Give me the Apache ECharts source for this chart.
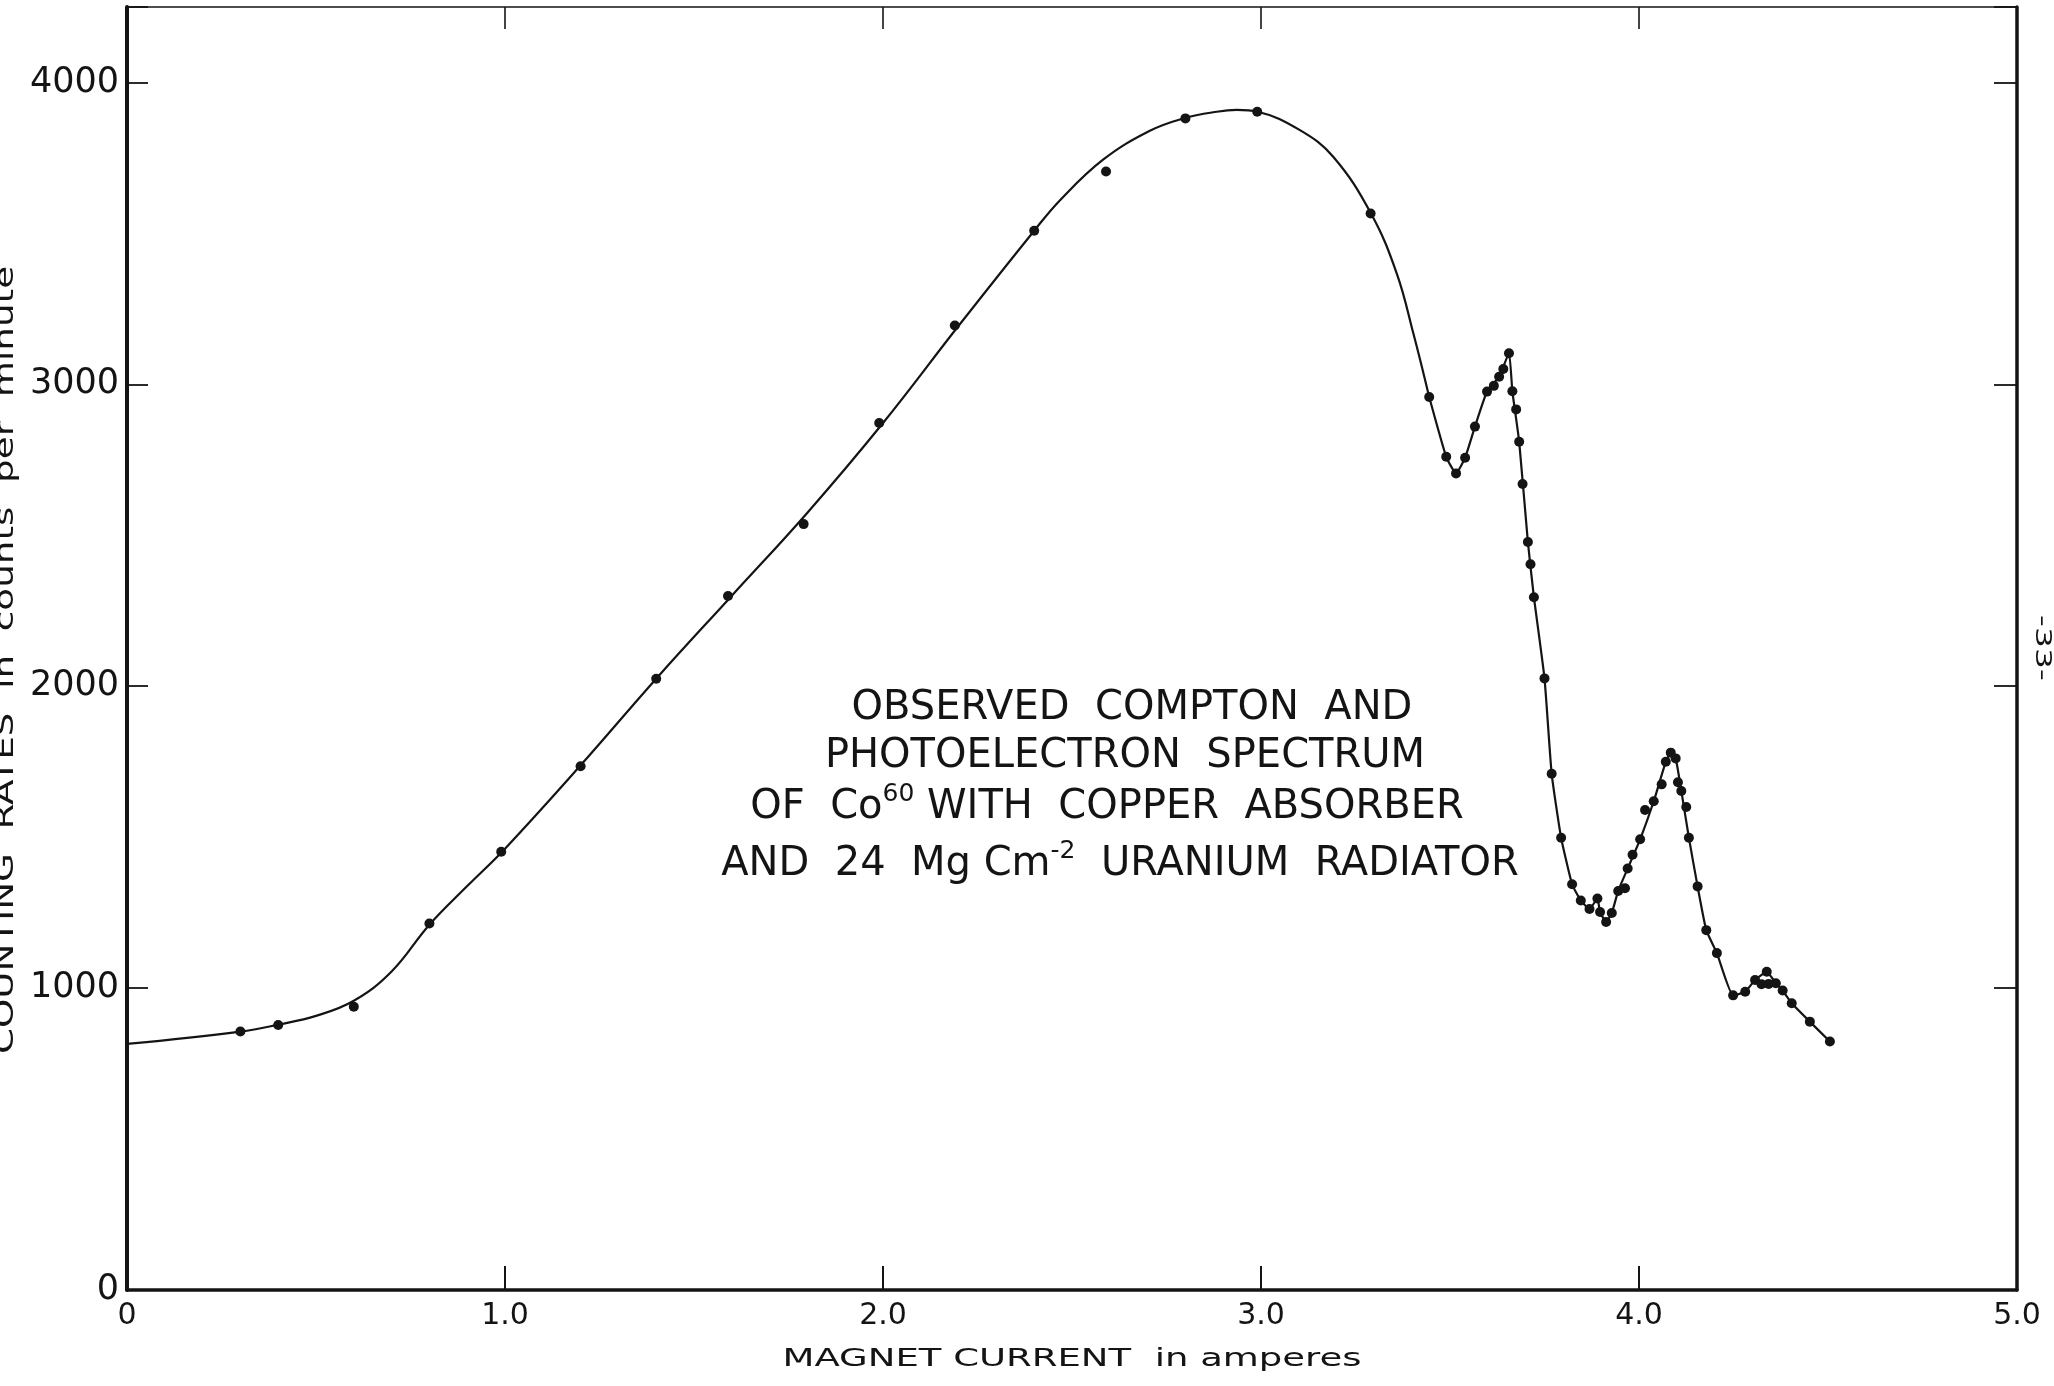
<!DOCTYPE html>
<html>
<head>
<meta charset="utf-8">
<script src="https://cdn.jsdelivr.net/npm/echarts@6/dist/echarts.min.js"></script>
<style>
html,body{margin:0;padding:0;background:#fff;}
#chart{width:2054px;height:1386px;}
</style>
</head>
<body>
<div id="chart"></div>
<script>
// ---- data ----
// observed points (magnet current in amperes, counts per minute)
const obsCurrent = [0.30,0.40,0.60,0.80,0.99,1.20,1.40,1.59,1.79,1.99,2.19,2.40,2.59,2.80,2.99,3.29,
  3.445,3.49,3.516,3.54,3.566,3.598,3.616,3.63,3.641,3.656,3.665,3.675,3.683,3.692,3.706,3.713,3.722,
  3.750,3.769,3.794,3.823,3.846,3.869,3.890,3.897,3.913,3.928,3.945,3.963,3.970,3.983,4.003,4.016,
  4.039,4.060,4.071,4.084,4.097,4.103,4.112,4.125,4.132,4.155,4.178,4.206,4.249,4.281,4.307,4.338,
  4.324,4.343,4.362,4.380,4.404,4.452,4.505];
const obsCounts = [856,878,938,1214,1452,1735,2025,2299,2537,2872,3195,3509,3705,3881,3903,3566,
  2958,2760,2705,2757,2860,2976,2995,3025,3051,3103,2977,2917,2810,2670,2478,2404,2295,
  2026,1710,1498,1344,1290,1262,1297,1252,1219,1249,1322,1331,1396,1442,1493,1590,
  1619,1675,1750,1780,1761,1682,1653,1600,1498,1337,1192,1116,976,988,1027,1054,
  1013,1014,1016,992,950,889,823];

// drawn smooth curve (left part)
const smoothCurrent = [0,0.30,0.40,0.50,0.60,0.70,0.80,0.90,1.0,1.2,1.4,1.6,1.8,2.0,2.2,2.4,2.469,2.583,
  2.706,2.795,2.883,2.936,2.991,3.103,3.191,3.291,3.359,3.403,3.445];
const smoothCounts = [815,856,879,908,958,1055,1210,1338,1462,1738,2025,2300,2575,2872,3194,3509,3611,3745,
  3840,3881,3903,3909,3903,3842,3754,3566,3368,3169,2958];

// drawn curve through the dense points (right part)
const peakCurrent = [3.445,3.49,3.516,3.54,3.566,3.598,3.63,3.656,3.665,3.683,3.706,3.722,3.75,3.769,
  3.794,3.823,3.846,3.869,3.89,3.897,3.913,3.928,3.945,3.97,4.003,4.039,4.071,4.084,4.097,4.112,4.132,
  4.155,4.178,4.206,4.249,4.281,4.307,4.338,4.362,4.38,4.404,4.452,4.505];
const peakCounts = [2958,2760,2705,2757,2860,2976,3025,3103,2977,2810,2478,2295,2026,1710,
  1498,1344,1290,1262,1297,1252,1219,1249,1322,1396,1493,1619,1750,1780,1761,1653,1498,
  1337,1192,1116,976,988,1027,1054,1016,992,950,889,823];

// short flat side line near 4.33 A
const sideCurrent = [4.324,4.343,4.362];
const sideCounts = [1013,1014,1016];

const xTickLabels = ['0','1.0','2.0','3.0','4.0','5.0'];
const yTickLabels = ['0','1000','2000','3000','4000'];

const xName = 'MAGNET CURRENT  in amperes';
const yName = 'COUNTING  RATES  in  counts  per  minute';
const pageNo = '-33-';

const zip = (a, b) => a.map((v, i) => [v, b[i]]);

const INK = '#141414';
const FONT = 'DejaVu Sans';
const chart = echarts.init(document.getElementById('chart'), null, {renderer: 'canvas'});

const xAxisCommon = {
  type: 'value', min: 0, max: 5, interval: 1,
  splitLine: {show: false}
};
const yAxisCommon = {
  type: 'value', min: 0, max: 4250, interval: 1000,
  splitLine: {show: false}
};

const noteStyle = {fontSize: 40, fontFamily: FONT, fill: INK};

const option = {
  backgroundColor: '#ffffff',
  animation: false,
  grid: {left: 127, right: 37, top: 7, bottom: 96, containLabel: false, outerBoundsMode: 'none'},
  xAxis: [
    Object.assign({}, xAxisCommon, {
      position: 'bottom',
      axisLine: {show: true, onZero: false, lineStyle: {color: INK, width: 3.5}},
      axisTick: {show: true, inside: true, length: 24, lineStyle: {color: INK, width: 2}},
      axisLabel: {
        show: true, margin: 11, fontSize: 30, fontFamily: FONT, color: INK,
        formatter: v => xTickLabels[Math.round(v)] || ''
      }
    }),
    Object.assign({}, xAxisCommon, {
      position: 'top',
      axisLine: {show: true, onZero: false, lineStyle: {color: INK, width: 1.6}},
      axisTick: {show: true, inside: true, length: 22, lineStyle: {color: INK, width: 1.6}},
      axisLabel: {show: false}
    })
  ],
  yAxis: [
    Object.assign({}, yAxisCommon, {
      position: 'left',
      axisLine: {show: true, onZero: false, lineStyle: {color: INK, width: 4}},
      axisTick: {show: true, inside: true, length: 21, lineStyle: {color: INK, width: 1.8}},
      axisLabel: {
        show: true, margin: 8, fontSize: 35, fontFamily: FONT, color: INK,
        formatter: v => (v % 1000 === 0 ? (yTickLabels[v / 1000] || '') : '')
      }
    }),
    Object.assign({}, yAxisCommon, {
      position: 'right',
      axisLine: {show: true, onZero: false, lineStyle: {color: INK, width: 3.5}},
      axisTick: {show: true, inside: true, length: 23, lineStyle: {color: INK, width: 1.8}},
      axisLabel: {show: false}
    })
  ],
  series: [
    {
      type: 'line', name: 'curve', xAxisIndex: 0, yAxisIndex: 0,
      data: zip(smoothCurrent, smoothCounts), smooth: 0.4, symbol: 'none',
      lineStyle: {color: INK, width: 2.2}, z: 2
    },
    {
      type: 'line', name: 'curve2', xAxisIndex: 0, yAxisIndex: 0,
      data: zip(peakCurrent, peakCounts), smooth: 0.15, symbol: 'none',
      lineStyle: {color: INK, width: 2.2}, z: 2
    },
    {
      type: 'line', name: 'side', xAxisIndex: 0, yAxisIndex: 0,
      data: zip(sideCurrent, sideCounts), symbol: 'none',
      lineStyle: {color: INK, width: 1.6}, z: 2
    },
    {
      type: 'scatter', name: 'observed', xAxisIndex: 0, yAxisIndex: 0,
      data: zip(obsCurrent, obsCounts), symbol: 'circle', symbolSize: 10,
      itemStyle: {color: INK, opacity: 1}, z: 3
    }
  ],
  graphic: [
    {
      type: 'text', x: 1072, y: 1359, scaleX: 1.48, silent: true,
      style: {text: xName, fontSize: 25, fontFamily: FONT, fill: INK,
        align: 'center', verticalAlign: 'middle'}
    },
    {
      type: 'text', x: 6, y: 660, rotation: Math.PI / 2, scaleX: 1.38, silent: true,
      style: {text: yName, fontSize: 27, fontFamily: FONT, fill: INK,
        align: 'center', verticalAlign: 'middle'}
    },
    {
      type: 'text', x: 2042, y: 648, rotation: -Math.PI / 2, scaleX: 1.5, silent: true,
      style: {text: pageNo, fontSize: 22, fontFamily: FONT, fill: INK,
        align: 'center', verticalAlign: 'middle'}
    },
    {
      type: 'text', x: 1132, y: 709, silent: true,
      style: Object.assign({text: 'OBSERVED  COMPTON  AND', align: 'center', verticalAlign: 'middle'}, noteStyle)
    },
    {
      type: 'text', x: 1125, y: 757, silent: true,
      style: Object.assign({text: 'PHOTOELECTRON  SPECTRUM', align: 'center', verticalAlign: 'middle'}, noteStyle)
    },
    {
      type: 'text', x: 1107, y: 805, silent: true,
      style: {
        text: '{a|OF  Co}{s|60}{a| WITH  COPPER  ABSORBER}',
        align: 'center', verticalAlign: 'middle',
        rich: {
          a: {fontSize: 40, fontFamily: FONT, fill: INK, lineHeight: 46, verticalAlign: 'bottom'},
          s: {fontSize: 25, fontFamily: FONT, fill: INK, lineHeight: 46, verticalAlign: 'top'}
        }
      }
    },
    {
      type: 'text', x: 1120, y: 862, silent: true,
      style: {
        text: '{a|AND  24  Mg Cm}{s|-2}{a|  URANIUM  RADIATOR}',
        align: 'center', verticalAlign: 'middle',
        rich: {
          a: {fontSize: 40, fontFamily: FONT, fill: INK, lineHeight: 46, verticalAlign: 'bottom'},
          s: {fontSize: 25, fontFamily: FONT, fill: INK, lineHeight: 46, verticalAlign: 'top'}
        }
      }
    }
  ]
};
chart.setOption(option);
</script>
</body>
</html>
